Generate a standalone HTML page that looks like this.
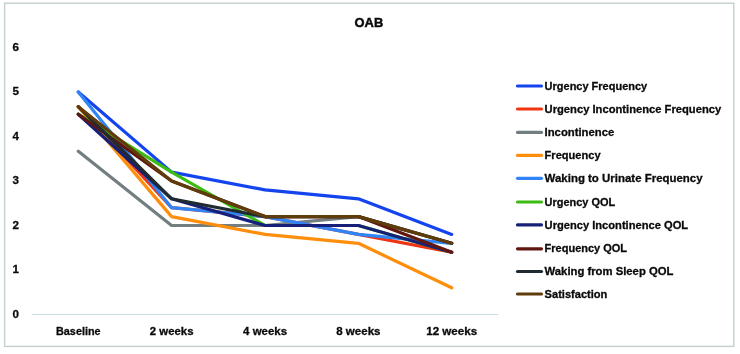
<!DOCTYPE html>
<html><head><meta charset="utf-8"><style>
html,body{margin:0;padding:0;background:#fff;}
body{width:740px;height:354px;overflow:hidden;}
svg{display:block;filter:blur(0.4px);}
text{font-family:"Liberation Sans",sans-serif;font-weight:bold;fill:#0a0a0a;stroke:#0a0a0a;stroke-width:0.3px;}
</style></head><body>
<svg width="740" height="354" viewBox="0 0 740 354">
<rect x="0" y="0" width="740" height="354" fill="#fff"/>
<rect x="4.6" y="3.2" width="729.2" height="343.2" fill="#fff" stroke="#c3d0d0" stroke-width="1.4"/>
<line x1="31.6" y1="314.5" x2="498.4" y2="314.5" stroke="#c9dbe0" stroke-width="1.2"/>
<text x="354.6" y="27.1" font-size="13.7" style="stroke-width:0.5px" textLength="28.6" lengthAdjust="spacingAndGlyphs">OAB</text>
<text x="12.6" y="317.9" font-size="11.6">0</text>
<text x="12.6" y="273.4" font-size="11.6">1</text>
<text x="12.6" y="228.9" font-size="11.6">2</text>
<text x="12.6" y="184.4" font-size="11.6">3</text>
<text x="12.6" y="139.9" font-size="11.6">4</text>
<text x="12.6" y="95.4" font-size="11.6">5</text>
<text x="12.6" y="50.9" font-size="11.6">6</text>
<text x="56.0" y="335.1" font-size="11" textLength="44.6" lengthAdjust="spacingAndGlyphs">Baseline</text>
<text x="149.8" y="335.1" font-size="11" textLength="43.7" lengthAdjust="spacingAndGlyphs">2 weeks</text>
<text x="243.1" y="335.1" font-size="11" textLength="43.9" lengthAdjust="spacingAndGlyphs">4 weeks</text>
<text x="336.2" y="335.1" font-size="11" textLength="44.3" lengthAdjust="spacingAndGlyphs">8 weeks</text>
<text x="426.2" y="335.1" font-size="11" textLength="51" lengthAdjust="spacingAndGlyphs">12 weeks</text>
<polyline points="78.3,92.0 171.6,172.1 265,189.9 358.4,198.8 451.7,234.4" fill="none" stroke="#1444ee" stroke-width="3.2" stroke-linejoin="round" stroke-linecap="round"/>
<polyline points="78.3,106.7 171.6,207.7 265,216.6 358.4,234.4 451.7,252.2" fill="none" stroke="#ee3512" stroke-width="3.2" stroke-linejoin="round" stroke-linecap="round"/>
<polyline points="78.3,151.2 171.6,225.5 265,225.5 358.4,216.6 451.7,243.3" fill="none" stroke="#727e80" stroke-width="3.2" stroke-linejoin="round" stroke-linecap="round"/>
<polyline points="78.3,106.7 171.6,216.6 265,234.4 358.4,243.3 451.7,287.8" fill="none" stroke="#ff8e0c" stroke-width="3.2" stroke-linejoin="round" stroke-linecap="round"/>
<polyline points="78.3,92.0 171.6,207.7 265,216.6 358.4,234.4 451.7,243.3" fill="none" stroke="#3084f6" stroke-width="3.2" stroke-linejoin="round" stroke-linecap="round"/>
<polyline points="78.3,114.2 171.6,172.1 265,225.5 358.4,225.5 451.7,252.2" fill="none" stroke="#3cbc12" stroke-width="3.2" stroke-linejoin="round" stroke-linecap="round"/>
<polyline points="78.3,114.2 171.6,198.8 265,225.5 358.4,225.5 451.7,252.2" fill="none" stroke="#172078" stroke-width="3.2" stroke-linejoin="round" stroke-linecap="round"/>
<polyline points="78.3,114.2 171.6,181.0 265,216.6 358.4,216.6 451.7,252.2" fill="none" stroke="#621610" stroke-width="3.2" stroke-linejoin="round" stroke-linecap="round"/>
<polyline points="78.3,106.7 171.6,198.8 265,216.6 358.4,216.6 451.7,243.3" fill="none" stroke="#1f2b30" stroke-width="3.2" stroke-linejoin="round" stroke-linecap="round"/>
<polyline points="78.3,106.7 171.6,181.0 265,216.6 358.4,216.6 451.7,243.3" fill="none" stroke="#603c0a" stroke-width="3.2" stroke-linejoin="round" stroke-linecap="round"/>
<line x1="517.5" y1="86" x2="541.5" y2="86" stroke="#1444ee" stroke-width="3.2" stroke-linecap="round"/>
<text x="544.6" y="89.6" font-size="11" textLength="102.6" lengthAdjust="spacingAndGlyphs">Urgency Frequency</text>
<line x1="517.5" y1="109" x2="541.5" y2="109" stroke="#ee3512" stroke-width="3.2" stroke-linecap="round"/>
<text x="544.6" y="112.6" font-size="11" textLength="176.6" lengthAdjust="spacingAndGlyphs">Urgency Incontinence Frequency</text>
<line x1="517.5" y1="132.4" x2="541.5" y2="132.4" stroke="#727e80" stroke-width="3.2" stroke-linecap="round"/>
<text x="544.6" y="136.0" font-size="11" textLength="69.6" lengthAdjust="spacingAndGlyphs">Incontinence</text>
<line x1="517.5" y1="155.4" x2="541.5" y2="155.4" stroke="#ff8e0c" stroke-width="3.2" stroke-linecap="round"/>
<text x="544.6" y="159.0" font-size="11" textLength="56" lengthAdjust="spacingAndGlyphs">Frequency</text>
<line x1="517.5" y1="178.3" x2="541.5" y2="178.3" stroke="#3084f6" stroke-width="3.2" stroke-linecap="round"/>
<text x="544.6" y="181.9" font-size="11" textLength="158" lengthAdjust="spacingAndGlyphs">Waking to Urinate Frequency</text>
<line x1="517.5" y1="202" x2="541.5" y2="202" stroke="#3cbc12" stroke-width="3.2" stroke-linecap="round"/>
<text x="544.6" y="205.6" font-size="11" textLength="70.6" lengthAdjust="spacingAndGlyphs">Urgency QOL</text>
<line x1="517.5" y1="224.9" x2="541.5" y2="224.9" stroke="#172078" stroke-width="3.2" stroke-linecap="round"/>
<text x="544.6" y="228.5" font-size="11" textLength="143.5" lengthAdjust="spacingAndGlyphs">Urgency Incontinence QOL</text>
<line x1="517.5" y1="248.8" x2="541.5" y2="248.8" stroke="#621610" stroke-width="3.2" stroke-linecap="round"/>
<text x="544.6" y="252.4" font-size="11" textLength="82.5" lengthAdjust="spacingAndGlyphs">Frequency QOL</text>
<line x1="517.5" y1="271.5" x2="541.5" y2="271.5" stroke="#1f2b30" stroke-width="3.2" stroke-linecap="round"/>
<text x="544.6" y="275.1" font-size="11" textLength="128.8" lengthAdjust="spacingAndGlyphs">Waking from Sleep QOL</text>
<line x1="517.5" y1="294" x2="541.5" y2="294" stroke="#603c0a" stroke-width="3.2" stroke-linecap="round"/>
<text x="544.6" y="297.6" font-size="11" textLength="62.8" lengthAdjust="spacingAndGlyphs">Satisfaction</text>
</svg></body></html>
